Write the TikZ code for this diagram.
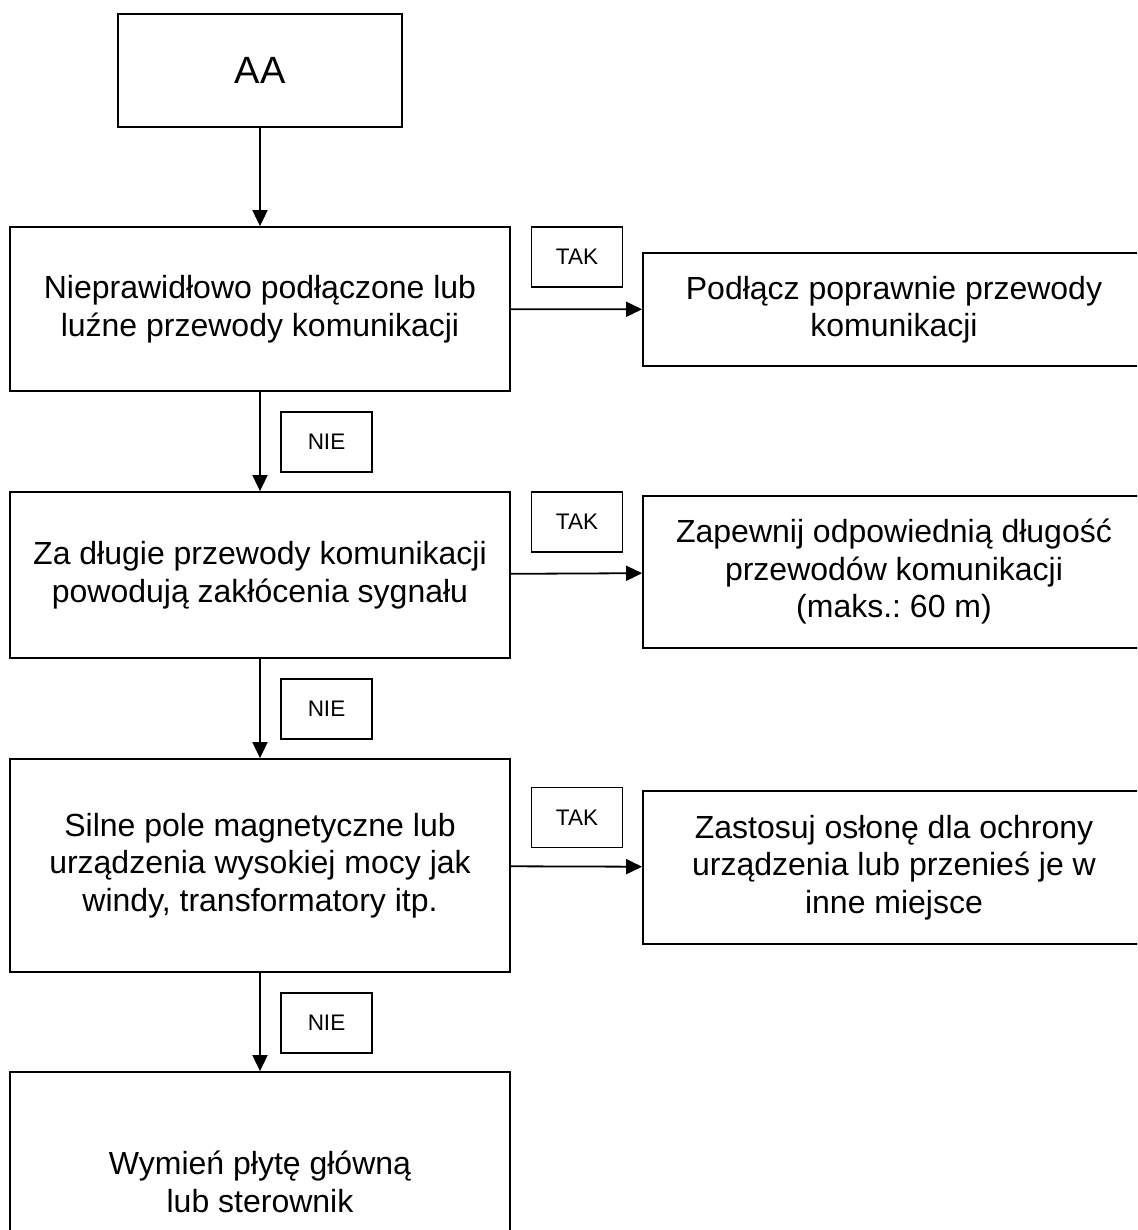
\documentclass[tikz,border=0pt]{standalone}
\usepackage{fontspec}
\setmainfont{Liberation Sans}
\usetikzlibrary{arrows.meta}
\frenchspacing
\begin{document}
\begin{tikzpicture}[x=1pt,y=-1pt,
  box/.style={draw=black,line width=1.8pt,rectangle,inner sep=0pt,align=center,
    font=\fontsize{32}{37.5}\selectfont},
  lbl/.style={draw=black,line width=1.6pt,rectangle,inner sep=0pt,align=center,
    minimum width=91pt,minimum height=60pt,font=\fontsize{22.5}{26}\selectfont},
  arr/.style={line width=1.8pt,-{Triangle[length=16pt,width=15pt]}}]
\clip (0,0) rectangle (1137,1230);
\fill[white] (0,0) rectangle (1137,1230);
% left column
\node[box,minimum width=284pt,minimum height=113pt,font=\fontsize{38}{42}\selectfont] (aa) at (260,70.5) {AA};
\node[box,minimum width=500pt,minimum height=164pt] (b1) at (260,309) {Nieprawidłowo podłączone lub\\luźne przewody komunikacji};
\node[box,minimum width=500pt,minimum height=166pt] (b2) at (260,575) {Za długie przewody komunikacji\\powodują zakłócenia sygnału};
\node[box,minimum width=500pt,minimum height=213pt] (b3) at (260,865.5) {Silne pole magnetyczne lub\\urządzenia wysokiej mocy jak\\windy, transformatory itp.};
\node[box,minimum width=500pt,minimum height=220pt] (b4) at (260,1182) {Wymień płytę główną\\lub sterownik};
% right column
\node[box,minimum width=502pt,minimum height=113pt] (r1) at (894,309.5) {Podłącz poprawnie przewody\\komunikacji};
\node[box,minimum width=502pt,minimum height=152pt] (r2) at (894,572) {Zapewnij odpowiednią długość\\przewodów komunikacji\\(maks.: 60 m)};
\node[box,minimum width=502pt,minimum height=153pt] (r3) at (894,867.5) {Zastosuj osłonę dla ochrony\\urządzenia lub przenieś je w\\inne miejsce};
% labels
\node[lbl] (t1) at (577,257) {TAK};
\node[lbl] (t2) at (577,522) {TAK};
\node[lbl] (t3) at (577,817.5) {TAK};
\node[lbl] (n1) at (326.5,442) {NIE};
\node[lbl] (n2) at (326.5,709) {NIE};
\node[lbl] (n3) at (326.5,1023) {NIE};
% connectors
\draw[arr] (aa) -- (b1);
\draw[arr] (b1) -- (b2);
\draw[arr] (b2) -- (b3);
\draw[arr] (b3) -- (b4);
\draw[arr] (b1) -- (r1);
\draw[arr] (b2) -- (r2);
\draw[arr] (b3) -- (r3);
\end{tikzpicture}
\end{document}
